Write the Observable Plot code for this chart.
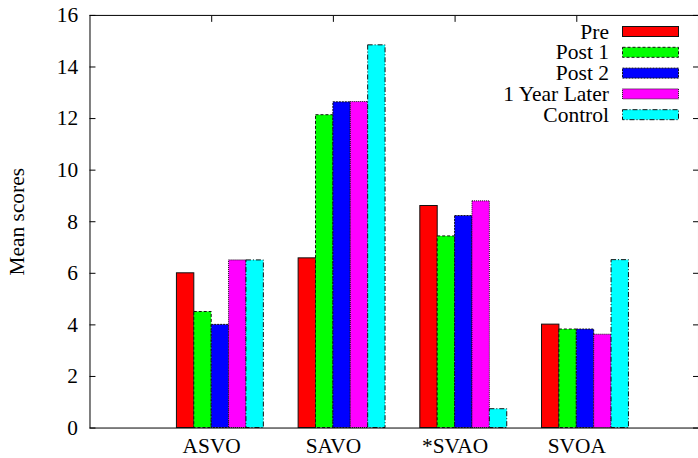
<!DOCTYPE html>
<html><head><meta charset="utf-8">
<script src="https://cdn.jsdelivr.net/npm/d3@7"></script>
<script src="https://cdn.jsdelivr.net/npm/@observablehq/plot@0.6"></script>
<style>
html,body{margin:0;padding:0;background:#fff;overflow:hidden;}
#wrap{position:relative;width:698px;height:458px;overflow:hidden;font-family:"Liberation Serif","Times New Roman",Times,"Nimbus Roman","DejaVu Serif",serif;}
#wrap svg{display:block;}
#wrap svg text{font-family:"Liberation Serif","Times New Roman",Times,"Nimbus Roman","DejaVu Serif",serif !important;}
#legend{position:absolute;left:0;top:0;}
</style></head><body><div id="wrap"></div>
<script>
const categories = ["ASVO", "SAVO", "*SVAO", "SVOA"];
const series = ["Pre", "Post 1", "Post 2", "1 Year Later", "Control"];
const pre       = [6.0, 6.58, 8.61, 4.01];
const post1     = [4.5, 12.13, 7.43, 3.82];
const post2     = [4.0, 12.63, 8.22, 3.82];
const yearLater = [6.5, 12.64, 8.79, 3.62];
const control   = [6.5, 14.84, 0.73, 6.51];
const yTicks = [0, 2, 4, 6, 8, 10, 12, 14, 16];
const yLabel = "Mean scores";

const values = [pre, post1, post2, yearLater, control];
const colors = ["#ff0000", "#00ff00", "#0000ff", "#ff00ff", "#00ffff"];
const dashes = [null, "3,2", "2,1", "1,1", "5,2,1,2"];
const fs = 21.5;
const nSlots = 7; // 5 bars + 2 gap slots per cluster
const catIdx = categories.map((_, i) => i);

const barMarks = series.map((s, j) => {
  const rows = categories.map((c, i) => ({
    x1: i + (j - 2) / nSlots,
    x2: i + (j - 1) / nSlots,
    v: values[j][i]
  }));
  return Plot.rectY(rows, {
    x1: "x1", x2: "x2", y1: 0, y2: "v",
    fill: colors[j], stroke: "#111", strokeWidth: 1,
    strokeDasharray: dashes[j]
  });
});

const chart = Plot.plot({
  width: 702, height: 458,
  marginLeft: 90, marginRight: 0, marginTop: 15, marginBottom: 28,
  style: {fontSize: fs + "px", background: "white", color: "black", overflow: "visible"},
  x: {type: "linear", domain: [-1, 4]},
  y: {domain: [0, 16]},
  marks: [
    Plot.axisX(catIdx, {anchor: "bottom", tickSize: -6, tickFormat: () => "", label: null}),
    ...barMarks,
    Plot.axisX(catIdx, {anchor: "top", tickSize: -6, tickFormat: () => "", label: null}),
    Plot.axisX(catIdx, {anchor: "bottom", tickSize: 0, tickPadding: 10, tickFormat: (i) => categories[i], label: null, fontSize: fs}),
    Plot.axisY(yTicks, {anchor: "left", tickSize: -6, tickFormat: () => "", label: null}),
    Plot.axisY(yTicks, {anchor: "right", tickSize: -6, tickFormat: () => "", label: null}),
    Plot.axisY(yTicks, {anchor: "left", tickSize: 0, tickPadding: 12, label: null, fontSize: fs}),
    Plot.frame({stroke: "black", strokeWidth: 1}),
    Plot.text([yLabel], {frameAnchor: "left", textAnchor: "middle", lineAnchor: "middle", rotate: -90, dx: -73, fontSize: fs, fill: "black"})
  ]
});
const wrap = document.getElementById("wrap");
wrap.appendChild(chart);

// Legend (top-right, inside plot area)
const leg = d3.select(wrap).append("svg").attr("id", "legend")
  .attr("width", 698).attr("height", 140)
  .style("font-size", fs + "px");
const rowH = 20.8, row0 = 31, textRight = 609, swX = 622, swW = 56, swH = 10;
series.forEach((s, j) => {
  const cy = row0 + j * rowH;
  leg.append("text").attr("x", textRight).attr("y", cy).attr("dy", "0.35em")
    .attr("text-anchor", "end").attr("fill", "black").text(s);
  leg.append("rect").attr("x", swX + 0.5).attr("y", cy - swH / 2 + 0.5)
    .attr("width", swW).attr("height", swH)
    .attr("fill", colors[j]).attr("stroke", "#111")
    .attr("stroke-dasharray", dashes[j]);
});
</script>
</body></html>
